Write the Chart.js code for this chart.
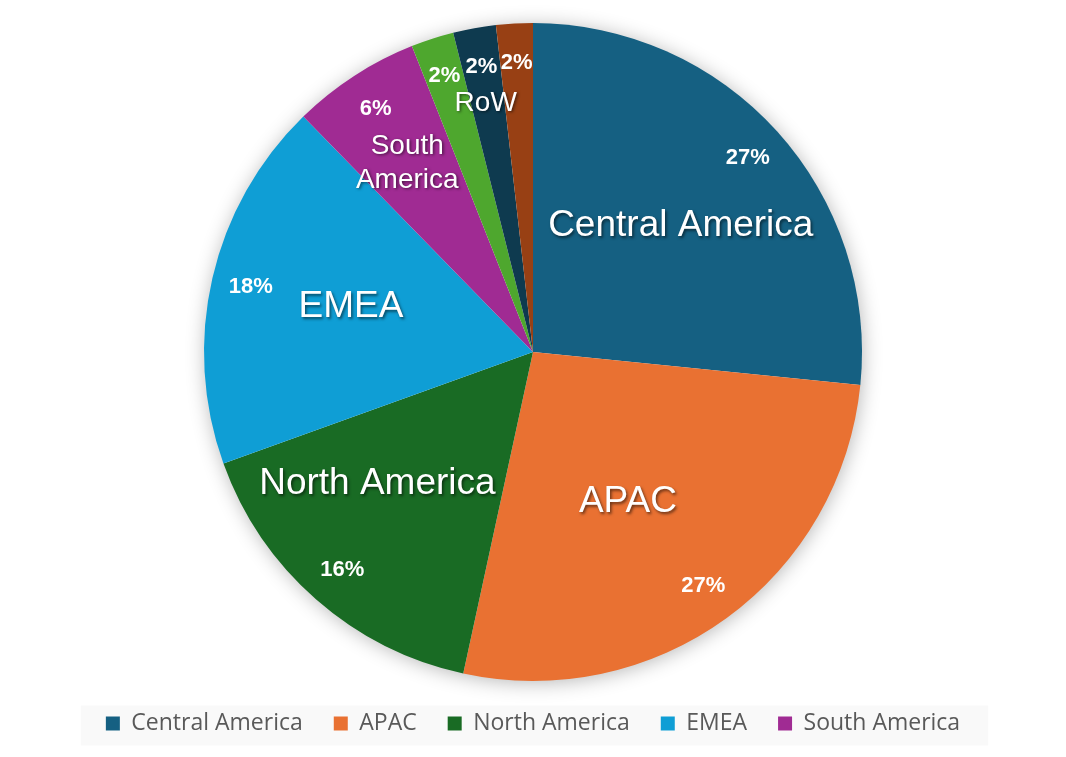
<!DOCTYPE html>
<html>
<head>
<meta charset="utf-8">
<script src="https://cdn.jsdelivr.net/npm/chart.js@4.4.0/dist/chart.umd.min.js"></script>
<style>
  html, body { margin: 0; padding: 0; background: #fff; }
  #wrap { width: 1066px; height: 757px; }
</style>
</head>
<body>
<div id="wrap"><canvas id="regionPie" width="1066" height="757"></canvas></div>
<script>
// Share of total by region (in %)
const categories = ["Central America", "APAC", "North America", "EMEA", "South America", "", "RoW", ""];
const shares = [26.6, 26.8, 16.1, 18.2, 6.3, 2.1, 2.1, 1.8];
const sliceColors = ["#156082", "#e97132", "#196b24", "#0f9ed5", "#a02b93", "#4ea72e", "#0e3a4f", "#984014"];
const legendCount = 5;

// label placement inside each slice: [angle offset deg, radius fraction, font px, wrap]
const nameStyle = [
    [1.7, 0.59, 37, false],
    [3.7, 0.54, 37, false],
    [8.5, 0.62, 37, false],
    [0.9, 0.57, 37, false],
    [-0.7, 0.69, 28, true],
    [0, 0.7, 28, false],
    [-0.5, 0.77, 28, false],
    [0, 0.7, 28, false]
];

const pieShadow = {
    id: "pieShadow",
    beforeDatasetsDraw(chart) {
        const arc = chart.getDatasetMeta(0).data[0];
        if (!arc) return;
        const ctx = chart.ctx;
        ctx.save();
        ctx.shadowColor = "rgba(0,0,0,0.3)";
        ctx.shadowBlur = 20;
        ctx.shadowOffsetX = 1;
        ctx.shadowOffsetY = 2;
        ctx.fillStyle = "#ffffff";
        ctx.beginPath();
        ctx.arc(arc.x, arc.y, arc.outerRadius - 1, 0, Math.PI * 2);
        ctx.fill();
        ctx.restore();
    }
};

const sliceLabels = {
    id: "sliceLabels",
    afterDatasetsDraw(chart) {
        const ctx = chart.ctx;
        const arcs = chart.getDatasetMeta(0).data;
        const values = chart.data.datasets[0].data;
        const total = values.reduce((a, b) => a + b, 0);
        arcs.forEach((arc, i) => {
            const mid = (arc.startAngle + arc.endAngle) / 2;
            const r = arc.outerRadius;
            ctx.save();
            ctx.fillStyle = "#ffffff";
            ctx.textAlign = "center";
            ctx.textBaseline = "middle";

            // percentage
            ctx.font = "bold 22px 'Liberation Sans', Arial, sans-serif";
            const pct = Math.round(values[i] / total * 100) + "%";
            ctx.fillText(pct, arc.x + Math.cos(mid) * r * 0.88, arc.y + Math.sin(mid) * r * 0.88);

            // category name
            const name = chart.data.labels[i];
            if (name) {
                const [off, frac, size, wrap] = nameStyle[i];
                const a = mid + off * Math.PI / 180;
                const x = arc.x + Math.cos(a) * r * frac;
                const y = arc.y + Math.sin(a) * r * frac;
                ctx.font = size + "px 'Liberation Sans', Arial, sans-serif";
                ctx.shadowColor = "rgba(0,0,0,0.55)";
                ctx.shadowBlur = 3;
                ctx.shadowOffsetX = 1.5;
                ctx.shadowOffsetY = 1.5;
                const lines = wrap ? name.split(" ") : [name];
                const lh = size * 1.22;
                lines.forEach((line, k) => {
                    ctx.fillText(line, x, y + (k - (lines.length - 1) / 2) * lh);
                });
            }
            ctx.restore();
        });
    }
};

const legendBackground = {
    id: "legendBackground",
    beforeDraw(chart) {
        const boxes = chart.legend && chart.legend.legendHitBoxes;
        if (!boxes || !boxes.length) return;
        const ctx = chart.ctx;
        const last = boxes[boxes.length - 1];
        const left = boxes[0].left - 25;
        const right = last.left + last.width + 28;
        const cy = boxes[0].top + boxes[0].height / 2;
        ctx.save();
        ctx.fillStyle = "#f9f9f9";
        ctx.fillRect(left, cy - 18, right - left, 40);
        ctx.restore();
    }
};

new Chart(document.getElementById("regionPie"), {
    type: "pie",
    data: {
        labels: categories,
        datasets: [{
            data: shares,
            backgroundColor: sliceColors,
            borderWidth: 0
        }]
    },
    options: {
        responsive: false,
        animation: false,
        devicePixelRatio: 1,
        layout: { padding: { top: 23, bottom: 12, left: 0, right: 0 } },
        plugins: {
            tooltip: { enabled: false },
            legend: {
                position: "bottom",
                labels: {
                    boxWidth: 14,
                    boxHeight: 14,
                    padding: 31,
                    color: "#595959",
                    font: { family: "'Open Sans', 'Liberation Sans', sans-serif", size: 23 },
                    filter: (item) => item.index < legendCount
                }
            }
        }
    },
    plugins: [pieShadow, sliceLabels, legendBackground]
});
</script>
</body>
</html>
